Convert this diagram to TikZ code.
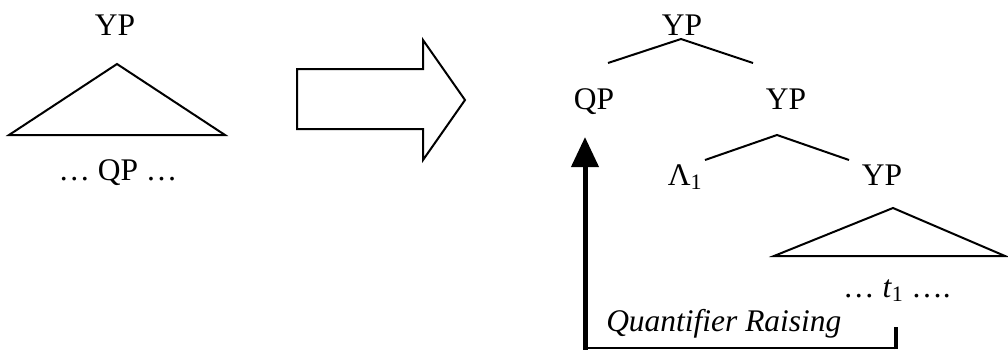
\documentclass[tikz,border=0pt]{standalone}
\usepackage{fontspec}
\setmainfont{Liberation Serif}
\usetikzlibrary{arrows.meta}
\tikzset{
  lbl/.style={inner sep=0pt, anchor=base, font=\fontsize{23.6}{28}\selectfont},
  thin line/.style={line width=1.5pt, line join=miter},
  raise/.style={line width=3.75pt},
}
\begin{document}
\begin{tikzpicture}[x=0.75pt,y=-0.75pt]
\useasboundingbox (0,0) rectangle (1008,350);
% left tree
\node[lbl] (lyp) at (115,35) {YP};
\coordinate (lapex) at (117,64);
\coordinate (lbl1) at (9,135);
\coordinate (lbr) at (225,135);
\draw[thin line] (lapex) -- (lbl1) -- (lbr) -- cycle;
\node[lbl] (lqp) at (118,180) {… QP …};
% big arrow
\coordinate (a1) at (297,69);
\coordinate (a2) at (423,69);
\coordinate (a3) at (423,40);
\coordinate (a4) at (465,100);
\coordinate (a5) at (423,160);
\coordinate (a6) at (423,129);
\coordinate (a7) at (297,129);
\draw[thin line] (a1) -- (a2) -- (a3) -- (a4) -- (a5) -- (a6) -- (a7) -- cycle;
% right tree
\node[lbl] (ryp) at (682,35) {YP};
\coordinate (t1l) at (608,63);
\coordinate (t1a) at (681,39);
\coordinate (t1r) at (753,63);
\draw[thin line] (t1l) -- (t1a) -- (t1r);
\node[lbl] (qp) at (594,109) {QP};
\node[lbl] (yp2) at (786,109) {YP};
\coordinate (t2l) at (705,160);
\coordinate (t2a) at (777,135);
\coordinate (t2r) at (849,160);
\draw[thin line] (t2l) -- (t2a) -- (t2r);
\node[lbl] (lam) at (685,185) {Λ\textsubscript{1}};
\node[lbl] (yp3) at (882,185) {YP};
\coordinate (rapex) at (893,208);
\coordinate (rbl) at (774,256);
\coordinate (rbr) at (1005,256);
\draw[thin line] (rapex) -- (rbl) -- (rbr) -- cycle;
\node[lbl] (tr) at (897,297) {… \textit{t}\textsubscript{1} ….};
% quantifier raising
\coordinate (qtip) at (585,137);
\coordinate (qbot) at (585,350);
\coordinate (qcorner) at (585,348);
\coordinate (rcorner) at (896,348);
\coordinate (rtop) at (896,327);
\draw[raise, -{Triangle[length=22.5pt,width=20pt]}] (qbot) -- (qtip);
\draw[line width=2pt] (qcorner) -- (rcorner);
\draw[line width=3pt] ([yshift=-1pt]rcorner) -- (rtop);
\node[lbl, anchor=base west] (qr) at (606,331) {\textit{Quantifier Raising}};
\end{tikzpicture}
\end{document}
